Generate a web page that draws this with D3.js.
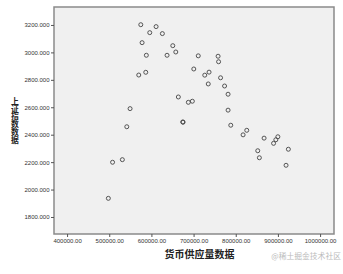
<!DOCTYPE html>
<html>
<head>
<meta charset="utf-8">
<script src="https://cdn.jsdelivr.net/npm/d3@7"></script>
<style>
  body { margin: 0; background: #fff; }
  svg { display: block; }
  .tick text { font-family: 'Liberation Sans', Arial, sans-serif; font-size: 6px; fill: #333; }
  .tick line { stroke: #555; }
</style>
</head>
<body>
<svg id="chart" width="343" height="274"></svg>
<script>
// money supply (x) vs Shanghai index (y)
const moneySupply = [
  497900, 507900, 531100, 541600, 549400, 570000, 586600, 588000, 577900, 574800,
  596100, 611100, 626000, 637100, 650700, 657800, 663900, 674400, 675000, 687600,
  697100, 700500, 711100, 726500, 736700, 734800, 758100, 759300, 764000, 773500,
  781800, 781800, 788200, 817400, 826100, 852200, 856000, 867200, 889700, 895100,
  899900, 919300, 924800
]
const indexValues = [
  1936, 2199, 2218, 2458, 2590, 2835, 2855, 2979, 3071, 3202,
  3144, 3188, 3137, 2979, 3049, 3003, 2675, 2493, 2491, 2636,
  2644, 2879, 2975, 2834, 2856, 2770, 2972, 2932, 2815, 2755,
  2695, 2579, 2469, 2399, 2432, 2283, 2232, 2375, 2337, 2363,
  2385, 2177, 2294
]
const xTicks = [400000, 500000, 600000, 700000, 800000, 900000, 1000000]
const yTicks = [1800, 2000, 2200, 2400, 2600, 2800, 3000, 3200]
const xTitle = '货币供应量数据'
const yTitle = '上证指数数据'
const watermark = '@稀土掘金技术社区'

const svg = d3.select('#chart')
const plot = { left: 54, top: 7, right: 334, bottom: 234 }

const x = d3.scaleLinear().domain([369000, 1033000]).range([plot.left, plot.right])
const y = d3.scaleLinear().domain([1676, 3331]).range([plot.bottom, plot.top])

svg.append('rect')
  .attr('x', plot.left)
  .attr('y', plot.top)
  .attr('width', plot.right - plot.left)
  .attr('height', plot.bottom - plot.top)
  .attr('fill', '#f0f0f0')
  .attr('stroke', '#8a8a8a')
  .attr('stroke-width', 1.5)

const xAxis = svg.append('g')
  .attr('transform', `translate(0,${plot.bottom})`)
  .call(d3.axisBottom(x).tickValues(xTicks).tickFormat(d3.format('.2f')).tickSize(3).tickPadding(2))
xAxis.select('.domain').remove()

const yAxis = svg.append('g')
  .attr('transform', `translate(${plot.left},0)`)
  .call(d3.axisLeft(y).tickValues(yTicks).tickFormat(d3.format('.3f')).tickSize(3).tickPadding(1.5))
yAxis.select('.domain').remove()

svg.append('g')
  .selectAll('circle')
  .data(d3.zip(moneySupply, indexValues))
  .join('circle')
  .attr('cx', d => x(d[0]))
  .attr('cy', d => y(d[1]))
  .attr('r', 2)
  .attr('fill', 'none')
  .attr('stroke', '#444')
  .attr('stroke-width', 0.9)

svg.append('text')
  .attr('x', 199.5)
  .attr('y', 258)
  .attr('text-anchor', 'middle')
  .attr('font-family', '"Noto Sans CJK SC", sans-serif')
  .attr('font-weight', 'bold')
  .attr('font-size', 10)
  .attr('fill', '#222')
  .text(xTitle)

// vertical title, characters stacked top to bottom
svg.append('text')
  .attr('x', 15)
  .attr('y', 97)
  .attr('writing-mode', 'vertical-rl')
  .attr('font-family', '"Noto Sans CJK SC", sans-serif')
  .attr('font-weight', 'bold')
  .attr('font-size', 7.8)
  .attr('fill', '#222')
  .text(yTitle)

svg.append('text')
  .attr('x', 341)
  .attr('y', 259)
  .attr('text-anchor', 'end')
  .attr('font-family', '"Noto Sans CJK SC", sans-serif')
  .attr('font-size', 7.8)
  .attr('fill', '#bbb')
  .text(watermark)
</script>
</body>
</html>
